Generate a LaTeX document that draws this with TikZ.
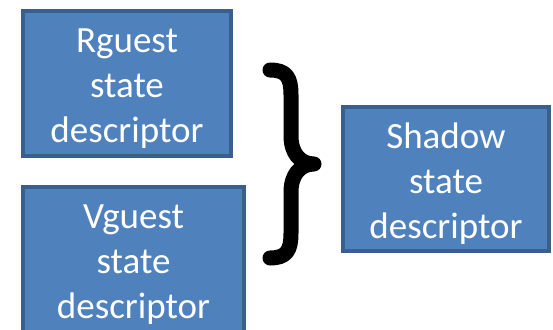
\documentclass[tikz,border=0pt]{standalone}
\usepackage{fontspec}
\setmainfont{Carlito}
\definecolor{boxfill}{HTML}{4F81BD}
\definecolor{boxline}{HTML}{3A5F8B}
\begin{document}
\begin{tikzpicture}[x=1pt,y=-1pt,
  descbox/.style={draw=boxline, fill=boxfill, line width=4pt, rectangle, inner sep=0pt},
  desctext/.style={text=white, align=center, inner sep=0pt,
    font=\fontsize{37}{45}\selectfont},
  bracestroke/.style={line width=15pt, line cap=round, line join=round}]
  \useasboundingbox (0,0) rectangle (553,329);
  \clip (0,0) rectangle (553,329);
  \node[descbox, minimum width=208pt, minimum height=145pt] (rguest) at (127,83.5) {};
  \node[desctext] (rguest-text) at ([yshift=-5pt]rguest.center)
    {Rguest\\state\\descriptor};
  \node[descbox, minimum width=221pt, minimum height=145pt] (vguest) at (133.5,259.5) {};
  \node[desctext] (vguest-text) at ([yshift=-5pt]vguest.center)
    {Vguest\\state\\descriptor};
  \node[descbox, minimum width=206pt, minimum height=144pt] (shadow) at (446,179) {};
  \node[desctext] (shadow-text) at ([yshift=-5pt]shadow.center)
    {Shadow\\state\\descriptor};
  % curly brace grouping the two guest descriptors
  \coordinate (bracetop) at (270,70);
  \coordinate (bracetip) at (314,164);
  \coordinate (bracebot) at (270,258);
  \draw[bracestroke] (bracetop)
    .. controls (287,70) and (291,78) .. (291,95) -- (291,136)
    .. controls (291,153) and (300,164) .. (bracetip)
    .. controls (300,164) and (291,175) .. (291,192) -- (291,233)
    .. controls (291,250) and (287,258) .. (bracebot);
\end{tikzpicture}
\end{document}
